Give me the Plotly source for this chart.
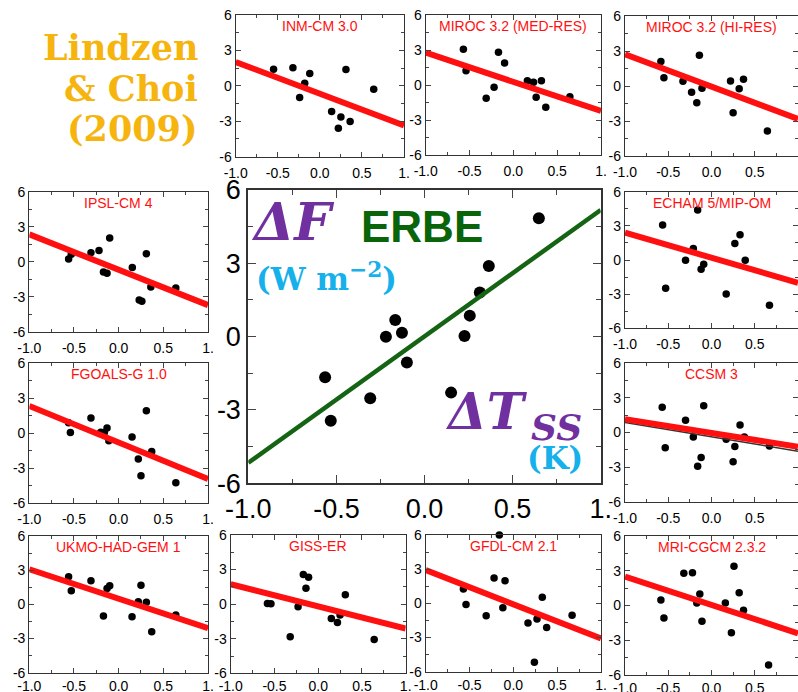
import plotly.graph_objects as go

W, H = 798, 692

# ---------------- data ----------------
PANEL_TITLES = ["INM-CM 3.0", "MIROC 3.2 (MED-RES)", "MIROC 3.2 (HI-RES)", "IPSL-CM 4",
                "ECHAM 5/MIP-OM", "FGOALS-G 1.0", "CCSM 3", "UKMO-HAD-GEM 1",
                "GISS-ER", "GFDL-CM 2.1", "MRI-CGCM 2.3.2"]

INM_DT = [-0.55, -0.32, -0.24, -0.18, -0.12, 0.14, 0.22, 0.25, 0.31, 0.36, 0.64]
INM_DF = [1.41, 1.53, -0.99, 0.23, 1.05, -2.18, -3.59, -2.63, 1.38, -3.02, -0.28]

MIROC_MED_DT = [-0.57, -0.54, -0.31, -0.22, -0.17, -0.10, 0.16, 0.23, 0.26, 0.32, 0.37, 0.645]
MIROC_MED_DF = [3.06, 1.23, -1.14, -0.20, 2.80, 1.89, 0.37, 0.23, -1.06, 0.37, -1.91, -1.00]

MIROC_HI_DT = [-0.585, -0.55, -0.33, -0.23, -0.17, -0.14, -0.11, 0.22, 0.25, 0.32, 0.37, 0.646]
MIROC_HI_DF = [2.11, 0.71, 0.40, -0.54, -1.43, 2.63, -0.20, 0.43, -2.29, -0.23, 0.57, -3.86]

IPSL_DT = [-0.56, -0.53, -0.31, -0.22, -0.17, -0.13, -0.10, 0.153, 0.23, 0.26, 0.31, 0.36, 0.64]
IPSL_DF = [0.23, 0.63, 0.77, 0.97, -0.89, -1.00, 2.03, -0.49, -3.29, -3.40, 0.69, -2.17, -2.26]

ECHAM_DT = [-0.565, -0.53, -0.30, -0.21, -0.16, -0.12, -0.09, 0.17, 0.27, 0.33, 0.39, 0.67]
ECHAM_DF = [3.07, -2.49, -0.03, 1.02, 4.39, -0.82, -0.38, -2.98, 1.46, 2.22, -0.03, -3.98]

FGOALS_DT = [-0.56, -0.54, -0.31, -0.20, -0.16, -0.13, -0.11, 0.15, 0.22, 0.25, 0.31, 0.37, 0.64]
FGOALS_DF = [0.91, 0.06, 1.31, 0.09, 0.06, 0.46, -0.63, -0.31, -2.20, -3.63, 1.94, -1.57, -4.23]

CCSM_DT = [-0.57, -0.535, -0.30, -0.21, -0.16, -0.12, -0.09, 0.17, 0.25, 0.27, 0.33, 0.38, 0.67]
CCSM_DF = [2.20, -1.33, 1.07, -0.40, -2.92, -2.17, 2.31, -0.58, -2.54, -1.21, 0.64, -0.38, -1.16]

UKMO_DT = [-0.56, -0.53, -0.31, -0.17, -0.13, -0.10, 0.15, 0.22, 0.25, 0.31, 0.37, 0.64]
UKMO_DF = [2.43, 1.20, 2.08, -1.02, 1.40, 1.64, -1.08, 0.23, 1.67, 0.18, -2.40, -0.94]

GISS_DT = [-0.58, -0.54, -0.32, -0.23, -0.17, -0.14, -0.11, 0.15, 0.22, 0.25, 0.31, 0.64]
GISS_DF = [0.06, 0.03, -2.83, -0.23, 2.57, 1.39, 2.34, -1.24, -1.59, -0.95, 0.81, -3.06]

GFDL_DT = [-0.57, -0.54, -0.31, -0.22, -0.16, -0.12, -0.095, 0.167, 0.24, 0.27, 0.33, 0.38, 0.67]
GFDL_DF = [1.26, -0.09, -1.08, 2.22, 6.0, -0.38, 1.99, -1.73, -5.18, -1.37, 0.53, -2.13, -1.05]

MRI_DT = [-0.585, -0.55, -0.32, -0.22, -0.17, -0.135, -0.11, 0.16, 0.23, 0.26, 0.32, 0.37, 0.66]
MRI_DF = [0.47, -1.08, 2.78, 2.83, 0.22, 0.99, -1.37, 0.22, -2.35, 3.38, 1.11, -0.42, -5.14]

ERBE_DT = [-0.564, -0.532, -0.308, -0.219, -0.166, -0.128, -0.10, 0.151, 0.227, 0.257, 0.314, 0.365, 0.649]
ERBE_DF = [-1.66, -3.44, -2.52, 0.0, 0.68, 0.16, -1.06, -2.29, 0.03, 0.86, 1.81, 2.89, 4.84]

# regression fits (slope, intercept)
MODEL_SLOPES = [-2.69, -2.50, -2.77, -3.03, -2.20, -3.13, -1.20, -2.59, -1.92, -3.00, -2.45]
MODEL_INTERCEPTS = [-0.67, 0.27, -0.06, -0.69, 0.20, -0.79, -0.04, 0.49, -0.19, -0.08, 0.05]
CCSM_BLACK_FIT = (-1.245, -0.375)
ERBE_FIT = (5.17, 0.01)

X_TICKS = [-1.0, -0.5, 0.0, 0.5, 1.0]
X_TICKTEXT = ["-1.0", "-0.5", "0.0", "0.5", "1."]
Y_TICKS = [-6, -3, 0, 3, 6]
Y_TICKTEXT = ["-6", "-3", "0", "3", "6"]

MODEL_DATA = [(INM_DT, INM_DF), (MIROC_MED_DT, MIROC_MED_DF), (MIROC_HI_DT, MIROC_HI_DF),
              (IPSL_DT, IPSL_DF), (ECHAM_DT, ECHAM_DF), (FGOALS_DT, FGOALS_DF),
              (CCSM_DT, CCSM_DF), (UKMO_DT, UKMO_DF), (GISS_DT, GISS_DF),
              (GFDL_DT, GFDL_DF), (MRI_DT, MRI_DF)]

# ---------------- layout (pixel boxes: left, right, top, bottom) ----------------
MODEL_BOXES = [
    (235.7, 404, 15, 156.7),
    (425.7, 601, 15, 155),
    (625, 798, 16, 156),
    (29.3, 208, 191.7, 331.7),
    (625, 798, 191.7, 328.3),
    (29.3, 208, 363.3, 503.3),
    (625, 798, 363.3, 501.7),
    (29.3, 208, 536, 672.7),
    (230.7, 405.7, 535, 673.3),
    (425.7, 601, 535, 671.7),
    (625, 798, 536, 675),
]
BIG_BOX = (248.3, 600.7, 190, 483.3)

RED = "#FF1010"
TICK_FONT = "Liberation Sans, Arial, sans-serif"

fig = go.Figure()
layout = dict(template="none", width=W, height=H, margin=dict(l=0, r=0, t=0, b=0, pad=0),
              paper_bgcolor="white", plot_bgcolor="white", showlegend=False,
              font=dict(family=TICK_FONT))
annotations = []


def axis_pair(n, box, big=False):
    l, r, t, b = box
    xk = "xaxis" if n == 1 else f"xaxis{n}"
    yk = "yaxis" if n == 1 else f"yaxis{n}"
    fs = 27 if big else 14
    lw = 2 if big else 1.3
    tl = 8 if big else 5
    common = dict(showgrid=False, zeroline=False, showline=True, linecolor="#333",
                  linewidth=lw, mirror="ticks", ticks="inside", ticklen=tl,
                  tickwidth=1, tickcolor="#444", automargin=False,
                  tickfont=dict(family=TICK_FONT, size=fs, color="black"),
                  fixedrange=True)
    layout[xk] = dict(common, domain=[l / W, r / W], range=[-1, 1], anchor=f"y{n}",
                      tickmode="array", tickvals=X_TICKS, ticktext=X_TICKTEXT,
                      ticklabelstandoff=0 if (big or b > 660) else 3,
                      minor=dict(ticks="inside", tickmode="linear", tick0=-1, dtick=0.25,
                                 ticklen=tl * 0.6, tickcolor="#444"))
    layout[yk] = dict(common, domain=[1 - b / H, 1 - t / H], range=[-6, 6], anchor=f"x{n}",
                      tickmode="array", tickvals=Y_TICKS, ticktext=Y_TICKTEXT,
                      minor=dict(ticks="inside", tickmode="linear", tick0=-6, dtick=1.5,
                                 ticklen=tl * 0.6, tickcolor="#444"))


for i, ((dt, df), box) in enumerate(zip(MODEL_DATA, MODEL_BOXES)):
    n = i + 1
    axis_pair(n, box)
    xa, ya = ("x", "y") if n == 1 else (f"x{n}", f"y{n}")
    fig.add_trace(go.Scatter(x=dt, y=df, mode="markers", xaxis=xa, yaxis=ya,
                             marker=dict(size=7.5, color="black"), cliponaxis=False))
    if PANEL_TITLES[i] == "CCSM 3":
        s, c = CCSM_BLACK_FIT
        fig.add_trace(go.Scatter(x=[-1, 1], y=[c - s, c + s], mode="lines", xaxis=xa, yaxis=ya,
                                 line=dict(color="#333", width=1.5)))
    s, c = MODEL_SLOPES[i], MODEL_INTERCEPTS[i]
    fig.add_trace(go.Scatter(x=[-1, 1], y=[c - s, c + s], mode="lines", xaxis=xa, yaxis=ya,
                             line=dict(color=RED, width=6)))
    annotations.append(dict(xref=f"{xa} domain", yref=f"{ya} domain", x=0.5, y=1,
                            xanchor="center", yanchor="top", yshift=-1, showarrow=False,
                            text=PANEL_TITLES[i],
                            font=dict(family=TICK_FONT, size=14, color=RED)))

# big ERBE panel
nb = len(MODEL_DATA) + 1
axis_pair(nb, BIG_BOX, big=True)
fig.add_trace(go.Scatter(x=ERBE_DT, y=ERBE_DF, mode="markers", xaxis=f"x{nb}", yaxis=f"y{nb}",
                         marker=dict(size=12, color="black"), cliponaxis=False))
s, c = ERBE_FIT
fig.add_trace(go.Scatter(x=[-1, 1], y=[c - s, c + s], mode="lines", xaxis=f"x{nb}", yaxis=f"y{nb}",
                         line=dict(color="#146414", width=4.5)))


def ptxt(text, px, py, size, color, family, xanchor="left"):
    annotations.append(dict(xref="paper", yref="paper", x=px / W, y=1 - py / H,
                            xanchor=xanchor, yanchor="middle", showarrow=False, text=text,
                            borderpad=0, font=dict(family=family, size=size, color=color)))


SERIF = "DejaVu Serif, serif"
PURPLE = "#7030A0"
BLUE = "#16B0EA"
GOLD = "#F6B40E"

ptxt("<b><i>ΔF</i></b>", 250, 222, 52, PURPLE, SERIF)
ptxt("<b>ERBE</b>", 360, 227, 44, "#0A640A", TICK_FONT)
ptxt("<b>(W m<sup>−2</sup>)</b>", 255, 277, 31, BLUE, SERIF)
ptxt("<b><i>ΔT</i></b>", 444, 411, 50, PURPLE, SERIF)
ptxt("<b><i>SS</i></b>", 530, 427, 36, PURPLE, SERIF)
ptxt("<b>(K)</b>", 526, 458, 31, BLUE, SERIF)

ptxt("<b>Lindzen</b>", 199, 47, 35, GOLD, SERIF, xanchor="right")
ptxt("<b>&amp; Choi</b>", 199, 88, 35, GOLD, SERIF, xanchor="right")
ptxt("<b>(2009)</b>", 199, 128, 35, GOLD, SERIF, xanchor="right")

layout["annotations"] = annotations
fig.update_layout(**layout)
fig.write_html("out.html", config={"displayModeBar": False},
               post_script="document.body.style.margin='0';document.body.style.overflow='hidden';")
